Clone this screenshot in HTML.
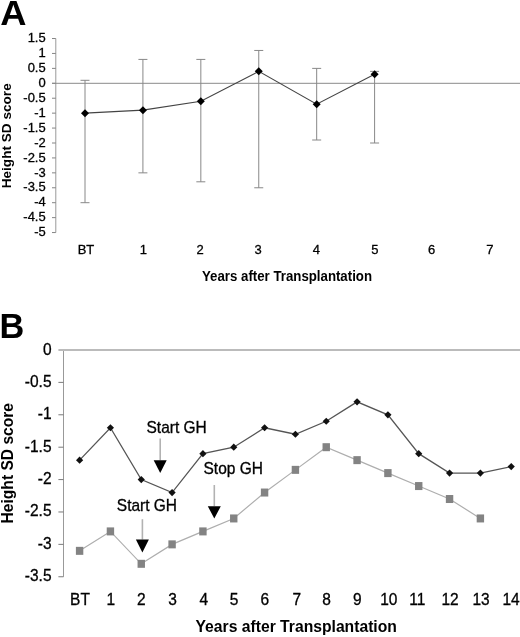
<!DOCTYPE html>
<html><head><meta charset="utf-8"><style>
html,body{margin:0;padding:0;background:#fff;width:520px;height:637px;overflow:hidden}
svg{display:block;filter:grayscale(1);font-family:"Liberation Sans",sans-serif;fill:#000}
</style></head><body>
<svg width="520" height="637" viewBox="0 0 520 637">
<text transform="translate(0.3,24.8) scale(1.06,1)" font-size="34.3" font-weight="bold" fill="#000">A</text>
<text x="-0.5" y="337.6" font-size="34.3" font-weight="bold" fill="#000">B</text>
<line x1="55.8" y1="38.52499999999999" x2="55.8" y2="232.55" stroke="#999" stroke-width="1"/>
<line x1="52" y1="38.52499999999999" x2="55.8" y2="38.52499999999999" stroke="#858585" stroke-width="1"/>
<text transform="translate(45.70,42.47) scale(1,1.03)" font-size="13" stroke="#000" stroke-width="0.3" text-anchor="end" fill="#000">1.5</text>
<line x1="52" y1="53.449999999999996" x2="55.8" y2="53.449999999999996" stroke="#858585" stroke-width="1"/>
<text transform="translate(45.70,57.37) scale(1,1.03)" font-size="13" stroke="#000" stroke-width="0.3" text-anchor="end" fill="#000">1</text>
<line x1="52" y1="68.375" x2="55.8" y2="68.375" stroke="#858585" stroke-width="1"/>
<text transform="translate(45.70,72.27) scale(1,1.03)" font-size="13" stroke="#000" stroke-width="0.3" text-anchor="end" fill="#000">0.5</text>
<line x1="52" y1="83.3" x2="55.8" y2="83.3" stroke="#858585" stroke-width="1"/>
<text transform="translate(45.70,87.17) scale(1,1.03)" font-size="13" stroke="#000" stroke-width="0.3" text-anchor="end" fill="#000">0</text>
<line x1="52" y1="98.225" x2="55.8" y2="98.225" stroke="#858585" stroke-width="1"/>
<text transform="translate(45.70,102.07) scale(1,1.03)" font-size="13" stroke="#000" stroke-width="0.3" text-anchor="end" fill="#000">-0.5</text>
<line x1="52" y1="113.15" x2="55.8" y2="113.15" stroke="#858585" stroke-width="1"/>
<text transform="translate(45.70,116.97) scale(1,1.03)" font-size="13" stroke="#000" stroke-width="0.3" text-anchor="end" fill="#000">-1</text>
<line x1="52" y1="128.075" x2="55.8" y2="128.075" stroke="#858585" stroke-width="1"/>
<text transform="translate(45.70,131.86) scale(1,1.03)" font-size="13" stroke="#000" stroke-width="0.3" text-anchor="end" fill="#000">-1.5</text>
<line x1="52" y1="143.0" x2="55.8" y2="143.0" stroke="#858585" stroke-width="1"/>
<text transform="translate(45.70,146.76) scale(1,1.03)" font-size="13" stroke="#000" stroke-width="0.3" text-anchor="end" fill="#000">-2</text>
<line x1="52" y1="157.925" x2="55.8" y2="157.925" stroke="#858585" stroke-width="1"/>
<text transform="translate(45.70,161.66) scale(1,1.03)" font-size="13" stroke="#000" stroke-width="0.3" text-anchor="end" fill="#000">-2.5</text>
<line x1="52" y1="172.85000000000002" x2="55.8" y2="172.85000000000002" stroke="#858585" stroke-width="1"/>
<text transform="translate(45.70,176.56) scale(1,1.03)" font-size="13" stroke="#000" stroke-width="0.3" text-anchor="end" fill="#000">-3</text>
<line x1="52" y1="187.775" x2="55.8" y2="187.775" stroke="#858585" stroke-width="1"/>
<text transform="translate(45.70,191.46) scale(1,1.03)" font-size="13" stroke="#000" stroke-width="0.3" text-anchor="end" fill="#000">-3.5</text>
<line x1="52" y1="202.7" x2="55.8" y2="202.7" stroke="#858585" stroke-width="1"/>
<text transform="translate(45.70,206.35) scale(1,1.03)" font-size="13" stroke="#000" stroke-width="0.3" text-anchor="end" fill="#000">-4</text>
<line x1="52" y1="217.625" x2="55.8" y2="217.625" stroke="#858585" stroke-width="1"/>
<text transform="translate(45.70,221.25) scale(1,1.03)" font-size="13" stroke="#000" stroke-width="0.3" text-anchor="end" fill="#000">-4.5</text>
<line x1="52" y1="232.55" x2="55.8" y2="232.55" stroke="#858585" stroke-width="1"/>
<text transform="translate(45.70,236.15) scale(1,1.03)" font-size="13" stroke="#000" stroke-width="0.3" text-anchor="end" fill="#000">-5</text>
<line x1="52" y1="83.3" x2="520" y2="83.3" stroke="#8a8a8a" stroke-width="1"/>
<line x1="85.00" y1="80.31" x2="85.00" y2="202.70" stroke="#888" stroke-width="1"/>
<line x1="80.50" y1="80.31" x2="89.50" y2="80.31" stroke="#888" stroke-width="1"/>
<line x1="80.50" y1="202.70" x2="89.50" y2="202.70" stroke="#888" stroke-width="1"/>
<line x1="142.92" y1="59.42" x2="142.92" y2="172.85" stroke="#888" stroke-width="1"/>
<line x1="138.42" y1="59.42" x2="147.42" y2="59.42" stroke="#888" stroke-width="1"/>
<line x1="138.42" y1="172.85" x2="147.42" y2="172.85" stroke="#888" stroke-width="1"/>
<line x1="200.84" y1="59.42" x2="200.84" y2="181.81" stroke="#888" stroke-width="1"/>
<line x1="196.34" y1="59.42" x2="205.34" y2="59.42" stroke="#888" stroke-width="1"/>
<line x1="196.34" y1="181.81" x2="205.34" y2="181.81" stroke="#888" stroke-width="1"/>
<line x1="258.76" y1="50.46" x2="258.76" y2="187.78" stroke="#888" stroke-width="1"/>
<line x1="254.26" y1="50.46" x2="263.26" y2="50.46" stroke="#888" stroke-width="1"/>
<line x1="254.26" y1="187.78" x2="263.26" y2="187.78" stroke="#888" stroke-width="1"/>
<line x1="316.68" y1="68.38" x2="316.68" y2="140.01" stroke="#888" stroke-width="1"/>
<line x1="312.18" y1="68.38" x2="321.18" y2="68.38" stroke="#888" stroke-width="1"/>
<line x1="312.18" y1="140.01" x2="321.18" y2="140.01" stroke="#888" stroke-width="1"/>
<line x1="374.60" y1="71.36" x2="374.60" y2="143.00" stroke="#888" stroke-width="1"/>
<line x1="370.10" y1="71.36" x2="379.10" y2="71.36" stroke="#888" stroke-width="1"/>
<line x1="370.10" y1="143.00" x2="379.10" y2="143.00" stroke="#888" stroke-width="1"/>
<polyline points="85.00,113.15 142.92,110.16 200.84,101.21 258.76,71.36 316.68,104.19 374.60,74.34" fill="none" stroke="#444" stroke-width="1.1"/>
<path d="M85.00 109.15L89.00 113.15L85.00 117.15L81.00 113.15Z" fill="#000"/>
<path d="M142.92 106.16L146.92 110.16L142.92 114.16L138.92 110.16Z" fill="#000"/>
<path d="M200.84 97.21L204.84 101.21L200.84 105.21L196.84 101.21Z" fill="#000"/>
<path d="M258.76 67.36L262.76 71.36L258.76 75.36L254.76 71.36Z" fill="#000"/>
<path d="M316.68 100.19L320.68 104.19L316.68 108.19L312.68 104.19Z" fill="#000"/>
<path d="M374.60 70.34L378.60 74.34L374.60 78.34L370.60 74.34Z" fill="#000"/>
<text transform="translate(86.00,254.20) scale(1,1.03)" font-size="13" stroke="#000" stroke-width="0.3" text-anchor="middle" fill="#000">BT</text>
<text transform="translate(143.25,254.20) scale(1,1.03)" font-size="13" stroke="#000" stroke-width="0.3" text-anchor="middle" fill="#000">1</text>
<text transform="translate(200.00,254.20) scale(1,1.03)" font-size="13" stroke="#000" stroke-width="0.3" text-anchor="middle" fill="#000">2</text>
<text transform="translate(258.10,254.20) scale(1,1.03)" font-size="13" stroke="#000" stroke-width="0.3" text-anchor="middle" fill="#000">3</text>
<text transform="translate(316.40,254.20) scale(1,1.03)" font-size="13" stroke="#000" stroke-width="0.3" text-anchor="middle" fill="#000">4</text>
<text transform="translate(374.90,254.20) scale(1,1.03)" font-size="13" stroke="#000" stroke-width="0.3" text-anchor="middle" fill="#000">5</text>
<text transform="translate(431.60,254.20) scale(1,1.03)" font-size="13" stroke="#000" stroke-width="0.3" text-anchor="middle" fill="#000">6</text>
<text transform="translate(489.75,254.20) scale(1,1.03)" font-size="13" stroke="#000" stroke-width="0.3" text-anchor="middle" fill="#000">7</text>
<text transform="translate(287.00,280.50) scale(1,1.08)" font-size="13.25" font-weight="bold" text-anchor="middle" fill="#000">Years after Transplantation</text>
<text transform="translate(11,135.8) rotate(-90)" font-size="13.6" font-weight="bold" text-anchor="middle">Height SD score</text>
<line x1="63.5" y1="350.0" x2="63.5" y2="576.76" stroke="#999" stroke-width="1"/>
<text transform="translate(51.50,354.50) scale(1,1.03)" font-size="15.5" stroke="#000" stroke-width="0.3" text-anchor="end" fill="#000">0</text>
<line x1="58.4" y1="382.39" x2="63.5" y2="382.39" stroke="#7a7a7a" stroke-width="1"/>
<text transform="translate(51.50,386.89) scale(1,1.03)" font-size="15.5" stroke="#000" stroke-width="0.3" text-anchor="end" fill="#000">-0.5</text>
<line x1="58.4" y1="414.79" x2="63.5" y2="414.79" stroke="#7a7a7a" stroke-width="1"/>
<text transform="translate(51.50,419.29) scale(1,1.03)" font-size="15.5" stroke="#000" stroke-width="0.3" text-anchor="end" fill="#000">-1</text>
<line x1="58.4" y1="447.19" x2="63.5" y2="447.19" stroke="#7a7a7a" stroke-width="1"/>
<text transform="translate(51.50,451.69) scale(1,1.03)" font-size="15.5" stroke="#000" stroke-width="0.3" text-anchor="end" fill="#000">-1.5</text>
<line x1="58.4" y1="479.58" x2="63.5" y2="479.58" stroke="#7a7a7a" stroke-width="1"/>
<text transform="translate(51.50,484.08) scale(1,1.03)" font-size="15.5" stroke="#000" stroke-width="0.3" text-anchor="end" fill="#000">-2</text>
<line x1="58.4" y1="511.98" x2="63.5" y2="511.98" stroke="#7a7a7a" stroke-width="1"/>
<text transform="translate(51.50,516.48) scale(1,1.03)" font-size="15.5" stroke="#000" stroke-width="0.3" text-anchor="end" fill="#000">-2.5</text>
<line x1="58.4" y1="544.37" x2="63.5" y2="544.37" stroke="#7a7a7a" stroke-width="1"/>
<text transform="translate(51.50,548.87) scale(1,1.03)" font-size="15.5" stroke="#000" stroke-width="0.3" text-anchor="end" fill="#000">-3</text>
<line x1="58.4" y1="576.76" x2="63.5" y2="576.76" stroke="#7a7a7a" stroke-width="1"/>
<text transform="translate(51.50,581.26) scale(1,1.03)" font-size="15.5" stroke="#000" stroke-width="0.3" text-anchor="end" fill="#000">-3.5</text>
<line x1="58.4" y1="350.0" x2="520" y2="350.0" stroke="#bbb" stroke-width="2"/>
<polyline points="79.60,550.85 110.43,531.41 141.26,563.81 172.09,544.37 202.92,531.41 233.75,518.45 264.58,492.54 295.41,469.86 326.24,447.19 357.07,460.14 387.90,473.10 418.73,486.06 449.56,499.02 480.39,518.45" fill="none" stroke="#aeaeae" stroke-width="1.2"/>
<rect x="75.90" y="546.85" width="7.4" height="8" fill="#838383"/>
<rect x="106.73" y="527.41" width="7.4" height="8" fill="#838383"/>
<rect x="137.56" y="559.81" width="7.4" height="8" fill="#838383"/>
<rect x="168.39" y="540.37" width="7.4" height="8" fill="#838383"/>
<rect x="199.22" y="527.41" width="7.4" height="8" fill="#838383"/>
<rect x="230.05" y="514.45" width="7.4" height="8" fill="#838383"/>
<rect x="260.88" y="488.54" width="7.4" height="8" fill="#838383"/>
<rect x="291.71" y="465.86" width="7.4" height="8" fill="#838383"/>
<rect x="322.54" y="443.19" width="7.4" height="8" fill="#838383"/>
<rect x="353.37" y="456.14" width="7.4" height="8" fill="#838383"/>
<rect x="384.20" y="469.10" width="7.4" height="8" fill="#838383"/>
<rect x="415.03" y="482.06" width="7.4" height="8" fill="#838383"/>
<rect x="445.86" y="495.02" width="7.4" height="8" fill="#838383"/>
<rect x="476.69" y="514.45" width="7.4" height="8" fill="#838383"/>
<polyline points="79.60,460.14 110.43,427.75 141.26,479.58 172.09,492.54 202.92,453.66 233.75,447.19 264.58,427.75 295.41,434.23 326.24,421.27 357.07,401.83 387.90,414.79 418.73,453.66 449.56,473.10 480.39,473.10 511.22,466.62" fill="none" stroke="#555" stroke-width="1.3"/>
<path d="M79.60 456.54L83.20 460.14L79.60 463.74L76.00 460.14Z" fill="#111"/>
<path d="M110.43 424.15L114.03 427.75L110.43 431.35L106.83 427.75Z" fill="#111"/>
<path d="M141.26 475.98L144.86 479.58L141.26 483.18L137.66 479.58Z" fill="#111"/>
<path d="M172.09 488.94L175.69 492.54L172.09 496.14L168.49 492.54Z" fill="#111"/>
<path d="M202.92 450.06L206.52 453.66L202.92 457.26L199.32 453.66Z" fill="#111"/>
<path d="M233.75 443.58L237.35 447.19L233.75 450.79L230.15 447.19Z" fill="#111"/>
<path d="M264.58 424.15L268.18 427.75L264.58 431.35L260.98 427.75Z" fill="#111"/>
<path d="M295.41 430.63L299.01 434.23L295.41 437.83L291.81 434.23Z" fill="#111"/>
<path d="M326.24 417.67L329.84 421.27L326.24 424.87L322.64 421.27Z" fill="#111"/>
<path d="M357.07 398.23L360.67 401.83L357.07 405.43L353.47 401.83Z" fill="#111"/>
<path d="M387.90 411.19L391.50 414.79L387.90 418.39L384.30 414.79Z" fill="#111"/>
<path d="M418.73 450.06L422.33 453.66L418.73 457.26L415.13 453.66Z" fill="#111"/>
<path d="M449.56 469.50L453.16 473.10L449.56 476.70L445.96 473.10Z" fill="#111"/>
<path d="M480.39 469.50L483.99 473.10L480.39 476.70L476.79 473.10Z" fill="#111"/>
<path d="M511.22 463.02L514.82 466.62L511.22 470.22L507.62 466.62Z" fill="#111"/>
<line x1="160.2" y1="438.6" x2="160.2" y2="460.2" stroke="#b2b2b2" stroke-width="1.6"/><path d="M153.70 460.2L166.70 460.2L160.2 473.0Z" fill="#000"/>
<line x1="142.4" y1="519.2" x2="142.4" y2="539.5" stroke="#b2b2b2" stroke-width="1.6"/><path d="M135.90 539.5L148.90 539.5L142.4 552.5Z" fill="#000"/>
<line x1="214.3" y1="485.0" x2="214.3" y2="506.2" stroke="#b2b2b2" stroke-width="1.6"/><path d="M207.80 506.2L220.80 506.2L214.3 518.5Z" fill="#000"/>
<text transform="translate(146.50,433.40) scale(1,1.03)" font-size="15.5" stroke="#000" stroke-width="0.3" fill="#000">Start GH</text>
<text transform="translate(116.80,511.10) scale(1,1.03)" font-size="15.5" stroke="#000" stroke-width="0.3" fill="#000">Start GH</text>
<text transform="translate(203.50,474.30) scale(1,1.03)" font-size="15.5" stroke="#000" stroke-width="0.3" fill="#000">Stop GH</text>
<text transform="translate(80.00,604.60) scale(1,1.03)" font-size="15.5" stroke="#000" stroke-width="0.3" text-anchor="middle" fill="#000">BT</text>
<text transform="translate(110.75,604.60) scale(1,1.03)" font-size="15.5" stroke="#000" stroke-width="0.3" text-anchor="middle" fill="#000">1</text>
<text transform="translate(141.25,604.60) scale(1,1.03)" font-size="15.5" stroke="#000" stroke-width="0.3" text-anchor="middle" fill="#000">2</text>
<text transform="translate(172.50,604.60) scale(1,1.03)" font-size="15.5" stroke="#000" stroke-width="0.3" text-anchor="middle" fill="#000">3</text>
<text transform="translate(203.75,604.60) scale(1,1.03)" font-size="15.5" stroke="#000" stroke-width="0.3" text-anchor="middle" fill="#000">4</text>
<text transform="translate(234.00,604.60) scale(1,1.03)" font-size="15.5" stroke="#000" stroke-width="0.3" text-anchor="middle" fill="#000">5</text>
<text transform="translate(264.75,604.60) scale(1,1.03)" font-size="15.5" stroke="#000" stroke-width="0.3" text-anchor="middle" fill="#000">6</text>
<text transform="translate(296.75,604.60) scale(1,1.03)" font-size="15.5" stroke="#000" stroke-width="0.3" text-anchor="middle" fill="#000">7</text>
<text transform="translate(326.50,604.60) scale(1,1.03)" font-size="15.5" stroke="#000" stroke-width="0.3" text-anchor="middle" fill="#000">8</text>
<text transform="translate(357.40,604.60) scale(1,1.03)" font-size="15.5" stroke="#000" stroke-width="0.3" text-anchor="middle" fill="#000">9</text>
<text transform="translate(388.75,604.60) scale(1,1.03)" font-size="15.5" stroke="#000" stroke-width="0.3" text-anchor="middle" fill="#000">10</text>
<text transform="translate(417.25,604.60) scale(1,1.03)" font-size="15.5" stroke="#000" stroke-width="0.3" text-anchor="middle" fill="#000">11</text>
<text transform="translate(450.00,604.60) scale(1,1.03)" font-size="15.5" stroke="#000" stroke-width="0.3" text-anchor="middle" fill="#000">12</text>
<text transform="translate(481.00,604.60) scale(1,1.03)" font-size="15.5" stroke="#000" stroke-width="0.3" text-anchor="middle" fill="#000">13</text>
<text transform="translate(511.00,604.60) scale(1,1.03)" font-size="15.5" stroke="#000" stroke-width="0.3" text-anchor="middle" fill="#000">14</text>
<text transform="translate(296.20,631.80) scale(1,1.08)" font-size="15.7" font-weight="bold" text-anchor="middle" fill="#000">Years after Transplantation</text>
<text transform="translate(13.3,463.2) rotate(-90)" font-size="15.6" font-weight="bold" text-anchor="middle">Height SD score</text>
</svg>
</body></html>
